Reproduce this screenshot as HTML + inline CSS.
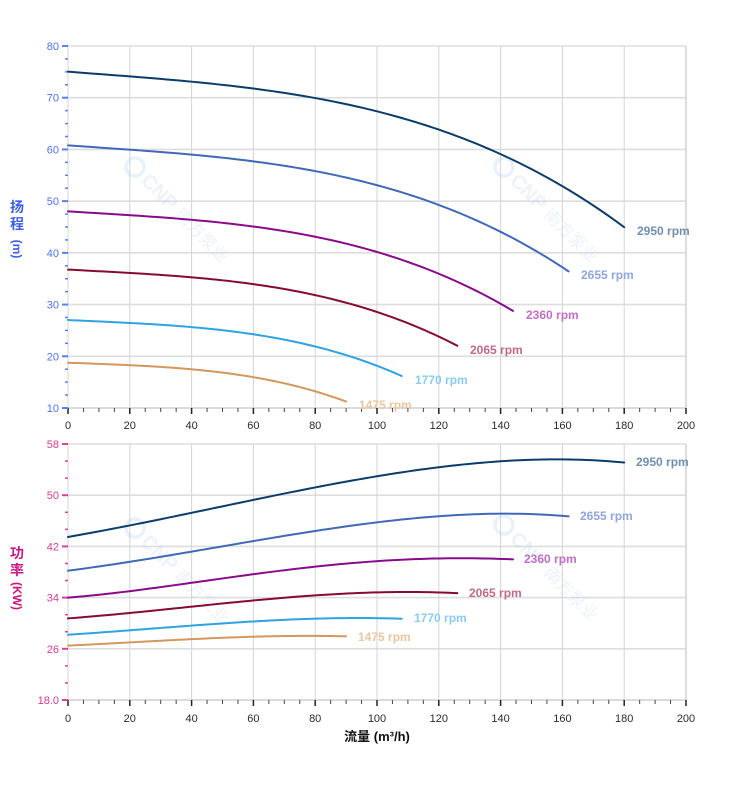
<!DOCTYPE html>
<html><head><meta charset="utf-8">
<style>
html,body{margin:0;padding:0;background:#fff;}
svg{display:block;font-family:"Liberation Sans","Noto Sans CJK SC",sans-serif;}
</style></head>
<body>
<svg id="s" width="752" height="797" viewBox="0 0 752 797" xmlns="http://www.w3.org/2000/svg">
<g id="grid"></g>
<!-- watermarks -->
<g opacity="0.22" fill="#a9c6e6">
  <g transform="translate(135,167) rotate(45)"><circle r="9" fill="none" stroke="#9cc0e8" stroke-width="3.5"/><text x="14" y="7" font-size="20" font-weight="bold">CNP</text><text x="62" y="7" font-size="17">南方泵业</text></g>
  <g transform="translate(504,167) rotate(45)"><circle r="9" fill="none" stroke="#9cc0e8" stroke-width="3.5"/><text x="14" y="7" font-size="20" font-weight="bold">CNP</text><text x="62" y="7" font-size="17">南方泵业</text></g>
  <g transform="translate(135,528) rotate(45)"><circle r="9" fill="none" stroke="#9cc0e8" stroke-width="3.5"/><text x="14" y="7" font-size="20" font-weight="bold">CNP</text><text x="62" y="7" font-size="17">南方泵业</text></g>
  <g transform="translate(504,525) rotate(45)"><circle r="9" fill="none" stroke="#9cc0e8" stroke-width="3.5"/><text x="14" y="7" font-size="20" font-weight="bold">CNP</text><text x="62" y="7" font-size="17">南方泵业</text></g>
</g>
<g id="ticks"></g>
<g id="curves" fill="none" stroke-width="2" stroke-linecap="round" stroke-linejoin="round"></g>

<!-- top y labels -->
<g font-size="11" fill="#4e73f0" text-anchor="end">
<text x="59" y="50">80</text>
<text x="59" y="101.7">70</text>
<text x="59" y="153.4">60</text>
<text x="59" y="205.1">50</text>
<text x="59" y="256.8">40</text>
<text x="59" y="308.6">30</text>
<text x="59" y="360.3">20</text>
<text x="59" y="412">10</text>
</g>
<!-- bottom y labels -->
<g font-size="11" fill="#d63c91" text-anchor="end">
<text x="59" y="448">58</text>
<text x="59" y="499.2">50</text>
<text x="59" y="550.4">42</text>
<text x="59" y="601.6">34</text>
<text x="59" y="652.8">26</text>
<text x="59" y="704">18.0</text>
</g>
<!-- x labels top -->
<g font-size="11" fill="#2a2a2a" text-anchor="middle">
<text x="68" y="429">0</text><text x="129.8" y="429">20</text><text x="191.6" y="429">40</text><text x="253.4" y="429">60</text><text x="315.2" y="429">80</text><text x="377" y="429">100</text><text x="438.8" y="429">120</text><text x="500.6" y="429">140</text><text x="562.4" y="429">160</text><text x="624.2" y="429">180</text><text x="686" y="429">200</text>
</g>
<g font-size="11" fill="#2a2a2a" text-anchor="middle">
<text x="68" y="722">0</text><text x="129.8" y="722">20</text><text x="191.6" y="722">40</text><text x="253.4" y="722">60</text><text x="315.2" y="722">80</text><text x="377" y="722">100</text><text x="438.8" y="722">120</text><text x="500.6" y="722">140</text><text x="562.4" y="722">160</text><text x="624.2" y="722">180</text><text x="686" y="722">200</text>
</g>
<!-- axis titles -->
<g fill="#3d5ee6" font-size="14" font-weight="bold" text-anchor="middle">
<text x="17" y="212">扬</text>
<text x="17" y="229">程</text>
<text transform="translate(13,249) rotate(90)" font-size="12">(m)</text>
</g>
<g fill="#c8197f" font-size="14" font-weight="bold" text-anchor="middle">
<text x="17" y="558">功</text>
<text x="17" y="575">率</text>
<text transform="translate(13,596) rotate(90)" font-size="12">(KW)</text>
</g>
<text x="377" y="741" font-size="13" font-weight="bold" fill="#111" text-anchor="middle">流量 (m³/h)</text>

<!-- rpm labels top -->
<g font-size="12" font-weight="bold">
<text x="637" y="235" fill="#6f8fb0">2950 rpm</text>
<text x="581" y="279" fill="#8fa6da">2655 rpm</text>
<text x="526" y="319" fill="#c070c2">2360 rpm</text>
<text x="470" y="354" fill="#c06a8a">2065 rpm</text>
<text x="415" y="384" fill="#8ccbef">1770 rpm</text>
<text x="359" y="409" fill="#eac6a0">1475 rpm</text>
</g>
<!-- rpm labels bottom -->
<g font-size="12" font-weight="bold">
<text x="636" y="466" fill="#6f8fb0">2950 rpm</text>
<text x="580" y="520" fill="#8fa6da">2655 rpm</text>
<text x="524" y="563" fill="#c070c2">2360 rpm</text>
<text x="469" y="597" fill="#c06a8a">2065 rpm</text>
<text x="414" y="622" fill="#8ccbef">1770 rpm</text>
<text x="358" y="641" fill="#eac6a0">1475 rpm</text>
</g>
</svg>
<script>
(function(){
var NS="http://www.w3.org/2000/svg";
function el(parent,tag,attrs){var e=document.createElementNS(NS,tag);for(var k in attrs)e.setAttribute(k,attrs[k]);parent.appendChild(e);return e;}
var X=function(q){return 68+q*3.09;};
var YH=function(h){return 46+(80-h)*5.1714;};
var YP=function(p){return 444+(58-p)*6.4;};
var grid=document.getElementById('grid'),ticks=document.getElementById('ticks'),curves=document.getElementById('curves');
function panel(y0,y1,hs){
  hs.forEach(function(y){el(grid,'line',{x1:68,x2:686,y1:y,y2:y,stroke:'#dedede','stroke-width':1.6});});
  for(var i=0;i<=10;i++){var x=X(i*20);el(grid,'line',{x1:x,x2:x,y1:y0,y2:y1,stroke:(i==10?'#d8d8d8':'#d4d4d4'),'stroke-width':(i==10?1.8:1)});}
  el(grid,'line',{x1:68,x2:686,y1:y1,y2:y1,stroke:'#c8c8c8','stroke-width':1});
  for(var j=0;j<=40;j++){var xx=X(j*5);var maj=(j%4==0);
    el(ticks,'line',{x1:xx,x2:xx,y1:y1,y2:y1+(maj?6:4),stroke:(maj?'#222':'#444'),'stroke-width':(maj?1.5:1)});}
}
var hsTop=[];for(var k=0;k<=7;k++)hsTop.push(46+k*51.714);
var hsBot=[];for(var k2=0;k2<=5;k2++)hsBot.push(444+k2*51.2);
panel(46,408,hsTop);panel(444,700,hsBot);
for(var m=0;m<=28;m++){var y=46+m*12.9286;var maj=(m%4==0);
  el(ticks,'line',{x1:maj?62:65,x2:68,y1:y,y2:y,stroke:'#5a7ef5','stroke-width':maj?2:1.5});}
for(var n=0;n<=15;n++){var yb=444+n*17.0667;var mj=(n%3==0);
  el(ticks,'line',{x1:mj?62:65,x2:68,y1:yb,y2:yb,stroke:'#e0409a','stroke-width':mj?2:1.5});}

// least squares polynomial fit
function polyfit(pts,deg){
  var n=deg+1,A=[],b=[];
  for(var i=0;i<n;i++){A.push(new Array(n).fill(0));b.push(0);}
  pts.forEach(function(p){var x=p[0]/100;var pw=[];for(var i=0;i<2*n;i++)pw.push(Math.pow(x,i));
    for(var i=0;i<n;i++){for(var j=0;j<n;j++)A[i][j]+=pw[i+j];b[i]+=pw[i]*p[1];}});
  for(var c=0;c<n;c++){var piv=c;for(var r=c+1;r<n;r++)if(Math.abs(A[r][c])>Math.abs(A[piv][c]))piv=r;
    var t=A[c];A[c]=A[piv];A[piv]=t;var tb=b[c];b[c]=b[piv];b[piv]=tb;
    for(var r2=c+1;r2<n;r2++){var f=A[r2][c]/A[c][c];for(var j2=c;j2<n;j2++)A[r2][j2]-=f*A[c][j2];b[r2]-=f*b[c];}}
  var co=new Array(n).fill(0);
  for(var r3=n-1;r3>=0;r3--){var s=b[r3];for(var j3=r3+1;j3<n;j3++)s-=A[r3][j3]*co[j3];co[r3]=s/A[r3][r3];}
  return function(q){var x=q/100,v=0;for(var i=n-1;i>=0;i--)v=v*x+co[i];return v;};
}
function poly(f,qmax,yf){var d='';var N=90;for(var i=0;i<=N;i++){var q=qmax*i/N;d+=(i?'L':'M')+X(q).toFixed(2)+','+yf(f(q)).toFixed(2);}return d;}

var H=[[0,75],[20,74.2],[40,73.1],[60,71.7],[80,69.9],[100,67.4],[120,63.9],[140,59.1],[160,52.8],[180,45.0]];
var fH=polyfit(H,4);
var series=[
 {r:1.0,c:'#0b3d6b',qm:180,p:[[0,43.5],[20,45.2],[40,47.3],[60,49.3],[80,51.2],[100,52.9],[120,54.4],[140,55.3],[160,55.6],[180,55.1]]},
 {r:0.9,c:'#4169b8',qm:162,p:[[0,38.2],[20,39.6],[40,41.2],[60,42.8],[80,44.4],[100,45.8],[120,46.7],[140,47.1],[162,46.7]]},
 {r:0.8,c:'#8a0a8c',qm:144,p:[[0,34.0],[20,35.0],[40,36.3],[60,37.7],[80,38.8],[100,39.7],[120,40.1],[135,40.15],[144,39.95]]},
 {r:0.7,c:'#860a33',qm:126,p:[[0,30.75],[20,31.6],[40,32.6],[60,33.5],[80,34.4],[100,34.8],[115,34.85],[126,34.7]]},
 {r:0.6,c:'#2ea3e0',qm:108,p:[[0,28.2],[20,28.9],[40,29.6],[60,30.3],[80,30.7],[95,30.8],[108,30.7]]},
 {r:0.5,c:'#d4975c',qm:90,p:[[0,26.5],[20,27.0],[40,27.5],[60,27.9],[80,28.0],[90,27.95]]}
];
series.forEach(function(s){
  var fh=function(q){return s.r*s.r*fH(q/s.r);};
  el(curves,'path',{d:poly(fh,s.qm,YH),stroke:s.c});
  var deg=s.p.length>=8?4:3;
  var fp=polyfit(s.p,deg);
  el(curves,'path',{d:poly(fp,s.qm,YP),stroke:s.c});
});
})();
</script>
</body></html>
